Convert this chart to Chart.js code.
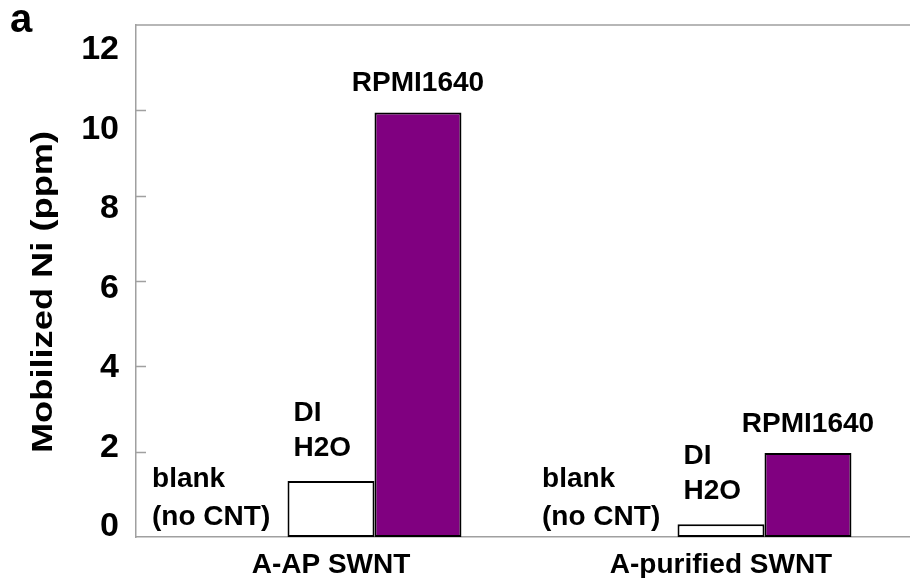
<!DOCTYPE html>
<html>
<head>
<meta charset="utf-8">
<script src="https://cdn.jsdelivr.net/npm/chart.js@4.4.0/dist/chart.umd.min.js"></script>
<style>
  html, body { margin: 0; padding: 0; background: #fff; overflow: hidden; }
  #wrap { width: 916px; height: 578px; }
</style>
</head>
<body>
<div id="wrap"><canvas id="chart" width="916" height="578"></canvas></div>
<script>
// data
const categories = ['A-AP SWNT', 'A-purified SWNT'];
const seriesNames = ['blank (no CNT)', 'DI H2O', 'RPMI1640'];
const blankValues = [0, 0];
const diWaterValues = [1.31, 0.30];
const rpmiValues = [9.95, 1.97];
const yTicks = [0, 2, 4, 6, 8, 10, 12];
const barNotes = [['blank', '(no CNT)'], ['DI', 'H2O'], ['RPMI1640']];
const yTitle = 'Mobilized Ni (ppm)';
const panelLetter = 'a';

const FONT = "'Liberation Sans', Arial, sans-serif";
const GREY = '#a0a0a0';

// top frame line + short inward tick marks on the value axis
const frame = {
  id: 'frame',
  beforeDatasetsDraw(chart) {
    const { ctx, chartArea, scales: { y } } = chart;
    ctx.save();
    ctx.strokeStyle = GREY;
    ctx.lineWidth = 1.5;
    ctx.beginPath();
    const top = y.getPixelForValue(yTicks[yTicks.length - 1]);
    ctx.moveTo(chartArea.left, top);
    ctx.lineTo(chartArea.right, top);
    yTicks.slice(1, -1).forEach(v => {
      const py = Math.round(y.getPixelForValue(v)) + 0.5;
      ctx.moveTo(chartArea.left, py);
      ctx.lineTo(chartArea.left + 10, py);
    });
    ctx.stroke();
    ctx.restore();
  }
};

// text notes sitting next to / above each bar
const notes = {
  id: 'notes',
  afterDatasetsDraw(chart) {
    const { ctx } = chart;
    const y0 = chart.scales.y.getPixelForValue(0);
    ctx.save();
    ctx.fillStyle = '#000';
    ctx.font = `bold 28px ${FONT}`;
    ctx.textBaseline = 'alphabetic';
    chart.data.datasets.forEach((ds, di) => {
      const lines = barNotes[di];
      chart.getDatasetMeta(di).data.forEach(bar => {
        const { x, y, width } = bar.getProps(['x', 'y', 'width'], true);
        if (di === 0) {
          ctx.textAlign = 'left';
          lines.forEach((t, i) => ctx.fillText(t, x - 92, y0 - 12 - (lines.length - 1 - i) * 38));
        } else if (di === 1) {
          ctx.textAlign = 'left';
          lines.forEach((t, i) => ctx.fillText(t, x - width / 2 + 6, y - 25 - (lines.length - 1 - i) * 35));
        } else {
          ctx.textAlign = 'center';
          ctx.fillText(lines[0], x, y - 21);
        }
      });
    });
    ctx.restore();
  }
};

// axis title (stretched like the original) and panel letter
const titles = {
  id: 'titles',
  afterDraw(chart) {
    const { ctx } = chart;
    ctx.save();
    ctx.fillStyle = '#000';
    ctx.font = `bold 40px ${FONT}`;
    ctx.textAlign = 'left';
    ctx.textBaseline = 'alphabetic';
    ctx.fillText(panelLetter, 10, 32);
    ctx.translate(52, 292);
    ctx.rotate(-Math.PI / 2);
    ctx.scale(1.25, 1);
    ctx.font = `bold 29px ${FONT}`;
    ctx.textAlign = 'center';
    ctx.fillText(yTitle, 0, 0);
    ctx.restore();
  }
};

const edge = c => (c.raw ? 2 : 0);

new Chart(document.getElementById('chart'), {
  type: 'bar',
  data: {
    labels: categories,
    datasets: [
      { label: seriesNames[0], data: blankValues, backgroundColor: '#fff', borderColor: '#000', borderWidth: edge, borderSkipped: false, xAxisID: 'x', yAxisID: 'y' },
      { label: seriesNames[1], data: diWaterValues, backgroundColor: '#fff', borderColor: '#000', borderWidth: edge, borderSkipped: false, xAxisID: 'x', yAxisID: 'y' },
      { label: seriesNames[2], data: rpmiValues, backgroundColor: '#800080', borderColor: '#000', borderWidth: edge, borderSkipped: false, xAxisID: 'x', yAxisID: 'y' }
    ]
  },
  options: {
    responsive: false,
    animation: false,
    categoryPercentage: 0.669,
    barPercentage: 1.0,
    layout: { padding: { top: 25, left: 0, right: 0, bottom: 0 } },
    plugins: { legend: { display: false }, tooltip: { enabled: false } },
    scales: {
      x: {
        offset: true,
        grid: { display: false, drawTicks: false },
        border: { display: true, color: GREY, width: 1.5 },
        ticks: { color: '#000', padding: 11, maxRotation: 0, autoSkip: false, font: { family: FONT, size: 28, weight: 'bold' } },
        afterFit: s => { s.height = 41; s.paddingLeft = 0; s.paddingRight = 0; }
      },
      y: { display: false, min: 0, max: 12 },
      // label axis: the printed numbers sit slightly off the tick marks in the original
      yLabels: {
        position: 'left',
        weight: 1,
        min: -0.25,
        max: 12.63,
        afterBuildTicks: s => { s.ticks = yTicks.map(v => ({ value: v })); },
        afterFit: s => { s.width = 136; s.paddingTop = 0; s.paddingBottom = 0; },
        grid: { display: false, drawTicks: false },
        border: { display: true, color: GREY, width: 1.5 },
        ticks: { color: '#000', padding: 17, font: { family: FONT, size: 34, weight: 'bold' } }
      }
    }
  },
  plugins: [frame, notes, titles]
});
</script>
</body>
</html>
